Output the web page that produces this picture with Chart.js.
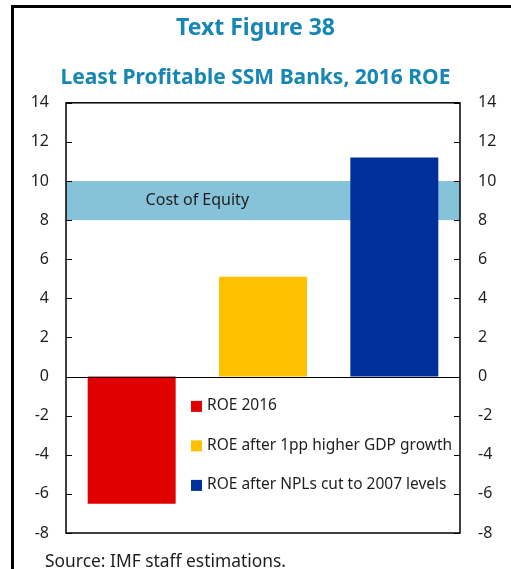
<!DOCTYPE html>
<html>
<head>
<meta charset="utf-8">
<script src="https://cdn.jsdelivr.net/npm/chart.js@4/dist/chart.umd.min.js"></script>
<style>
  html, body { margin: 0; padding: 0; background: #fff; overflow: hidden; }
  #frame {
    position: absolute; left: 11px; top: 5px; width: 600px; height: 600px;
    border-left: 3px solid #000; border-top: 3px solid #000;
  }
  #roe { position: absolute; left: 0; top: 0; }
</style>
</head>
<body>
<div id="frame"></div>
<canvas id="roe" width="511" height="569"></canvas>
<script>
var categories = ['ROE 2016', 'ROE after 1pp higher GDP growth', 'ROE after NPLs cut to 2007 levels'];
var roeValues = [-6.5, 5.1, 11.2];
var barColors = ['#e00000', '#ffc000', '#00309c'];
var costOfEquity = [8, 10];
var yTicks = [14, 12, 10, 8, 6, 4, 2, 0, -2, -4, -6, -8];

var FONT = '"Noto Sans", "DejaVu Sans", sans-serif';
var TEAL = '#1686b4';
var INK = '#1e1e1e';

// fixed axis widths so the plot box sits where the figure wants it
function fixWidth(w) {
    return function(scale) { scale.width = w; };
}

// cost-of-equity band, drawn under the bars
var bandPlugin = {
    id: 'band',
    beforeDatasetsDraw: function(chart) {
        var ctx = chart.ctx;
        var area = chart.chartArea;
        var y = chart.scales.y;
        var top = y.getPixelForValue(costOfEquity[1]);
        var bot = y.getPixelForValue(costOfEquity[0]);
        ctx.save();
        ctx.fillStyle = '#86c2d8';
        ctx.fillRect(area.left, top, area.right - area.left, bot - top);
        ctx.fillStyle = INK;
        ctx.font = '16px ' + FONT;
        ctx.textAlign = 'center';
        ctx.textBaseline = 'middle';
        ctx.fillText('Cost of Equity', area.left + (area.right - area.left) / 3, (top + bot) / 2);
        ctx.restore();
    }
};

// plot box, zero line, inward ticks, legend and source note
var framePlugin = {
    id: 'frameBox',
    afterDatasetsDraw: function(chart) {
        var ctx = chart.ctx;
        var area = chart.chartArea;
        var y = chart.scales.y;
        ctx.save();
        ctx.strokeStyle = '#000';
        ctx.lineWidth = 1.5;
        ctx.strokeRect(area.left, area.top, area.right - area.left, area.bottom - area.top);

        var zero = Math.round(y.getPixelForValue(0)) + 0.5;
        ctx.lineWidth = 1.2;
        ctx.beginPath();
        ctx.moveTo(area.left, zero);
        ctx.lineTo(area.right, zero);
        ctx.stroke();

        ctx.lineWidth = 1;
        y.ticks.forEach(function(t) {
            var py = Math.round(y.getPixelForValue(t.value)) + 0.5;
            ctx.beginPath();
            ctx.moveTo(area.left, py);
            ctx.lineTo(area.left + 6, py);
            ctx.moveTo(area.right, py);
            ctx.lineTo(area.right - 6, py);
            ctx.stroke();
        });

        // legend inside the plot, under the zero line
        ctx.font = '15.5px ' + FONT;
        ctx.textAlign = 'left';
        ctx.textBaseline = 'middle';
        categories.forEach(function(c, i) {
            var cy = y.getPixelForValue(-1.5) + i * 39.5;
            ctx.fillStyle = barColors[i];
            ctx.fillRect(191, cy - 5, 11, 11);
            ctx.fillStyle = INK;
            ctx.fillText(c, 207, cy);
        });

        ctx.font = '17.4px ' + FONT;
        ctx.fillText('Source: IMF staff estimations.', 45, 562);
        ctx.restore();
    }
};

new Chart(document.getElementById('roe'), {
    type: 'bar',
    data: {
        labels: categories,
        datasets: [{
            data: roeValues,
            backgroundColor: barColors,
            barPercentage: 0.67,
            categoryPercentage: 1
        }]
    },
    options: {
        responsive: false,
        animation: false,
        devicePixelRatio: 1,
        layout: { padding: { left: 0, right: 0, top: 0, bottom: 36 } },
        plugins: {
            legend: { display: false },
            tooltip: { enabled: false },
            title: {
                display: true,
                text: 'Text Figure 38',
                color: TEAL,
                font: { family: FONT, size: 23, weight: 'bold' },
                padding: { top: 15, bottom: 12 }
            },
            subtitle: {
                display: true,
                text: 'Least Profitable SSM Banks, 2016 ROE',
                color: TEAL,
                font: { family: FONT, size: 21, weight: 'bold' },
                padding: { top: 11, bottom: 12 }
            }
        },
        scales: {
            x: { display: false },
            y: {
                position: 'left',
                min: -8, max: 14,
                afterFit: fixWidth(66),
                afterBuildTicks: function(s) { s.ticks = yTicks.map(function(v) { return { value: v }; }); },
                grid: { display: false, drawTicks: false },
                border: { display: false },
                ticks: { color: INK, padding: 17, font: { family: FONT, size: 16 } }
            },
            y2: {
                position: 'right',
                min: -8, max: 14,
                afterFit: fixWidth(51),
                afterBuildTicks: function(s) { s.ticks = yTicks.map(function(v) { return { value: v }; }); },
                grid: { display: false, drawTicks: false },
                border: { display: false },
                ticks: { color: INK, padding: 18, font: { family: FONT, size: 16 } }
            }
        }
    },
    plugins: [bandPlugin, framePlugin]
});
</script>
</body>
</html>
